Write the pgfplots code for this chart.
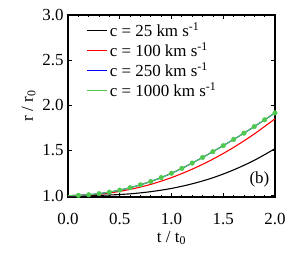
\documentclass[border=0pt]{standalone}
\usepackage{pgfplots}
\pgfplotsset{compat=1.18}
\usepackage{fontspec}
\setmainfont{Liberation Serif}
\definecolor{lgreen}{RGB}{80,200,80}
\begin{document}
\begin{tikzpicture}
\useasboundingbox (-68bp,-63bp) rectangle (229bp,197bp);
\begin{axis}[
  scale only axis, width=207bp, height=182bp,
  xmin=0, xmax=2, ymin=0.985, ymax=3,
  xtick={0,0.5,1,1.5,2}, ytick={1,1.5,2,2.5,3},
  minor x tick num=4,
  /pgf/number format/fixed,
  /pgf/number format/fixed zerofill,
  /pgf/number format/precision=1,
  /pgf/number format/assume math mode=true,
  tick align=inside,
  major tick length=4bp, minor tick length=2.5bp,
  axis line style={line width=1.1pt},
  every tick/.style={line width=0.8pt, black},
  tick label style={font=\fontsize{17}{20}\selectfont},
  xticklabel style={yshift=-13bp},
  yticklabel style={xshift=-1bp},
  label style={font=\fontsize{17}{20}\selectfont},
  xlabel={t / t\textsubscript{0}},
  ylabel={r / r\textsubscript{0}},
  xlabel style={yshift=1bp},
  ylabel style={yshift=0bp},
  legend cell align=left,
  legend style={draw=none, fill=none, at={(0.09,0.97)}, anchor=north west,
    font=\fontsize{17}{20}\selectfont, row sep=0.5pt, inner sep=0pt,
    /tikz/every even column/.append style={column sep=15bp}},
  legend image code/.code={\draw[line width=1pt] (0bp,0bp) -- (20bp,0bp);},
]
\addplot[black, line width=1.1pt, smooth] coordinates {
(0,1.0) (0.2,1.001) (0.4,1.007) (0.6,1.020) (0.8,1.044) (1.0,1.08) (1.2,1.131) (1.4,1.198) (1.6,1.285) (1.8,1.391) (2.0,1.52)};
\addlegendentry{c = 25 km s\textsuperscript{-1}}
\addplot[red, line width=1.1pt, smooth] coordinates {
(0,1.0) (0.2,1.007) (0.4,1.029) (0.6,1.069) (0.8,1.125) (1.0,1.2) (1.2,1.293) (1.4,1.404) (1.6,1.534) (1.8,1.683) (2.0,1.851)};
\addlegendentry{c = 100 km s\textsuperscript{-1}}
\addplot[blue, line width=1.1pt, smooth] coordinates {
(0,1.000) (0.1,1.003) (0.2,1.010) (0.3,1.022) (0.4,1.039) (0.5,1.061) (0.6,1.088) (0.7,1.120) (0.8,1.157) (0.9,1.200) (1.0,1.248) (1.1,1.302) (1.2,1.361) (1.3,1.423) (1.4,1.487) (1.5,1.554) (1.6,1.622) (1.7,1.692) (1.8,1.765) (1.9,1.840) (2.0,1.916)};
\addlegendentry{c = 250 km s\textsuperscript{-1}}
\addplot[lgreen, line width=1.1pt, smooth] coordinates {
(0,1.000) (0.1,1.003) (0.2,1.010) (0.3,1.022) (0.4,1.039) (0.5,1.061) (0.6,1.088) (0.7,1.120) (0.8,1.157) (0.9,1.200) (1.0,1.248) (1.1,1.302) (1.2,1.361) (1.3,1.423) (1.4,1.487) (1.5,1.554) (1.6,1.622) (1.7,1.692) (1.8,1.765) (1.9,1.840) (2.0,1.916)};
\addlegendentry{c = 1000 km s\textsuperscript{-1}}
\addplot[only marks, mark=*, mark size=2.3bp, lgreen, forget plot] coordinates {
(0.1,1.003) (0.2,1.010) (0.3,1.022) (0.4,1.039) (0.5,1.061) (0.6,1.088) (0.7,1.120) (0.8,1.157) (0.9,1.200) (1.0,1.248) (1.1,1.302) (1.2,1.361) (1.3,1.423) (1.4,1.487) (1.5,1.554) (1.6,1.622) (1.7,1.692) (1.8,1.765) (1.9,1.840) (2.0,1.916)};
\node[font=\fontsize{17}{20}\selectfont] at (axis cs:1.85,1.18) {(b)};
\end{axis}
\end{tikzpicture}
\end{document}
